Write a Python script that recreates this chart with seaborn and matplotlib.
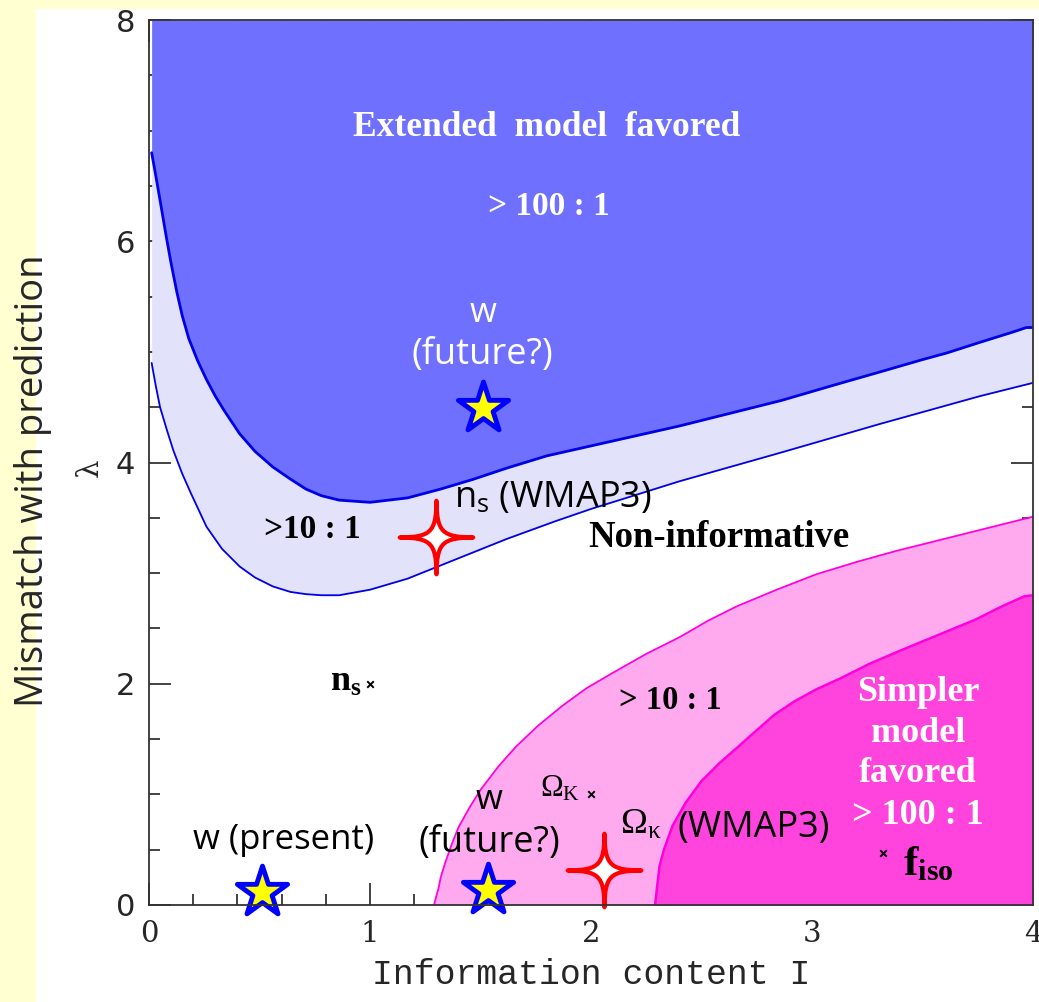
import matplotlib
matplotlib.use("Agg")
import matplotlib.pyplot as plt
import seaborn as sns
from matplotlib.path import Path
from matplotlib.patches import Rectangle
from matplotlib.ticker import MultipleLocator

# Boundary curves: information content I versus mismatch lambda
# Extended model favoured > 100:1 (above this curve)
upper_I = [0.012, 0.03, 0.05, 0.08, 0.10, 0.125, 0.15, 0.18, 0.22, 0.26, 0.30, 0.34, 0.41,
           0.48, 0.56, 0.64, 0.71, 0.78, 0.86, 1.00, 1.17, 1.32, 1.47, 1.62, 1.80, 2.00,
           2.20, 2.40, 2.60, 2.86, 3.10, 3.31, 3.50, 3.61, 3.75, 3.91, 3.97, 4.00]
upper_L = [6.80, 6.60, 6.37, 6.02, 5.80, 5.55, 5.33, 5.12, 4.92, 4.75, 4.60, 4.47, 4.26,
           4.10, 3.96, 3.85, 3.76, 3.70, 3.66, 3.64, 3.68, 3.76, 3.85, 3.95, 4.06, 4.15,
           4.24, 4.33, 4.43, 4.56, 4.70, 4.82, 4.93, 4.99, 5.08, 5.18, 5.22, 5.22]
# Extended model favoured > 10:1
lower_I = [0.012, 0.03, 0.05, 0.08, 0.11, 0.15, 0.19, 0.26, 0.33, 0.41, 0.48, 0.56, 0.64,
           0.71, 0.78, 0.86, 1.00, 1.17, 1.32, 1.47, 1.62, 1.84, 2.00, 2.40, 2.86, 3.31,
           3.76, 4.00]
lower_L = [4.90, 4.70, 4.50, 4.30, 4.11, 3.90, 3.72, 3.42, 3.22, 3.06, 2.96, 2.88, 2.83,
           2.81, 2.80, 2.80, 2.85, 2.95, 3.07, 3.19, 3.31, 3.47, 3.58, 3.83, 4.09, 4.35,
           4.60, 4.72]
# Simpler model favoured > 10:1 (below this curve)
simple10_I = [1.29, 1.30, 1.31, 1.32, 1.34, 1.37, 1.40, 1.45, 1.50, 1.58, 1.66, 1.76, 1.87,
              1.98, 2.10, 2.25, 2.40, 2.53, 2.66, 2.84, 3.02, 3.20, 3.38, 3.56, 3.74, 3.90,
              4.00]
simple10_L = [0.00, 0.08, 0.15, 0.25, 0.38, 0.55, 0.70, 0.88, 1.04, 1.25, 1.43, 1.62, 1.80,
              1.96, 2.10, 2.27, 2.42, 2.57, 2.70, 2.85, 2.99, 3.10, 3.20, 3.29, 3.38, 3.46,
              3.51]
# Simpler model favoured > 100:1
simple100_I = [2.29, 2.30, 2.31, 2.33, 2.37, 2.43, 2.50, 2.58, 2.66, 2.75, 2.83, 2.92, 3.02,
               3.13, 3.26, 3.40, 3.57, 3.74, 3.86, 3.96, 4.00]
simple100_L = [0.00, 0.18, 0.35, 0.50, 0.72, 0.93, 1.12, 1.28, 1.42, 1.58, 1.72, 1.84, 1.95,
               2.05, 2.18, 2.30, 2.44, 2.58, 2.70, 2.79, 2.80]

# Models placed in the plane
w_star_I = [1.51, 0.51, 1.535]
w_star_L = [4.49, 0.12, 0.14]
wmap_I = [1.30, 2.057]
wmap_L = [3.33, 0.32]
cross_I = [1.00, 2.00, 3.32]
cross_L = [2.00, 1.00, 0.47]

xticks = [0, 1, 2, 3, 4]
yticks = [0, 2, 4, 6, 8]

BLUE = "#7070FF"
LIGHT_BLUE = "#E2E2FA"
LIGHT_PINK = "#FFAAEE"
PINK = "#FF44DD"
LINE_BLUE = "#0000E6"
MAGENTA = "#FF00DD"
SANS = "Open Sans"
SERIF = "Liberation Serif"

sns.set_theme(style="ticks")
plt.rcParams["font.family"] = [SANS, "DejaVu Sans"]
plt.rcParams["mathtext.fontset"] = "custom"
plt.rcParams["mathtext.rm"] = SERIF
plt.rcParams["mathtext.it"] = SERIF + ":italic"
plt.rcParams["mathtext.bf"] = SERIF + ":bold"

fig = plt.figure(figsize=(10.39, 10.02), dpi=100, facecolor="#FFFFD2")
fig.patches.append(Rectangle((36 / 1039, 0), 1, 1 - 9 / 1002, transform=fig.transFigure,
                             facecolor="white", edgecolor="none", zorder=-10))
ax = fig.add_axes([149 / 1039, 97 / 1002, 884 / 1039, 885 / 1002])
ax.set_zorder(1)
ax.set_facecolor("white")

# Shaded evidence regions
ax.fill_between(lower_I, lower_L, 8, color=LIGHT_BLUE, lw=0, zorder=1)
ax.fill_between(upper_I, upper_L, 8, color=BLUE, lw=0, zorder=1)
ax.fill_between(simple10_I, 0, simple10_L, color=LIGHT_PINK, lw=0, zorder=1)
ax.fill_between(simple100_I, 0, simple100_L, color=PINK, lw=0, zorder=1)

sns.lineplot(x=upper_I, y=upper_L, sort=False, estimator=None, color=LINE_BLUE, lw=2.0, ax=ax)
sns.lineplot(x=lower_I, y=lower_L, sort=False, estimator=None, color=LINE_BLUE, lw=1.3, ax=ax)
sns.lineplot(x=simple10_I, y=simple10_L, sort=False, estimator=None, color=MAGENTA, lw=1.3, ax=ax)
sns.lineplot(x=simple100_I, y=simple100_L, sort=False, estimator=None, color=MAGENTA, lw=1.8, ax=ax)

# Four-pointed sparkle marker
sparkle = Path(
    [(0, 1), (0.01, 0.15), (0.15, 0.01), (1, 0), (0.15, -0.01), (0.01, -0.15), (0, -1),
     (-0.01, -0.15), (-0.15, -0.01), (-1, 0), (-0.15, 0.01), (-0.01, 0.15), (0, 1), (0, 1)],
    [Path.MOVETO] + [Path.CURVE4] * 12 + [Path.CLOSEPOLY])

sns.scatterplot(x=w_star_I, y=w_star_L, marker="*", s=38 ** 2, color="yellow",
                edgecolor="blue", linewidth=3.5, zorder=5, ax=ax, clip_on=False)
sns.scatterplot(x=wmap_I, y=wmap_L, marker=sparkle, s=53 ** 2, color="white",
                edgecolor="red", linewidth=3.0, zorder=5, ax=ax, clip_on=False)
sns.scatterplot(x=cross_I, y=cross_L, marker="x", s=22, color="black",
                linewidth=1.4, zorder=5, ax=ax)

# Region labels
bold_serif = dict(family=SERIF, weight="bold")
ax.text(1.80, 7.03, "Extended  model  favored", color="white", fontsize=25.5,
        ha="center", va="center", **bold_serif)
ax.text(1.81, 6.31, "> 100 : 1", color="white", fontsize=24, ha="center", va="center", **bold_serif)
ax.text(0.74, 3.39, ">10 : 1", color="black", fontsize=24, ha="center", va="center", **bold_serif)
ax.text(2.58, 3.32, "Non-informative", color="black", fontsize=26.5, ha="center", va="center", **bold_serif)
ax.text(2.36, 1.85, "> 10 : 1", color="black", fontsize=23.5, ha="center", va="center", **bold_serif)
for txt, yy in zip(["Simpler", "model", "favored", "> 100 : 1"], [1.92, 1.55, 1.19, 0.81]):
    ax.text(3.48, yy, txt, color="white", fontsize=26, ha="center", va="center", **bold_serif)

# Model labels
ax.text(1.51, 5.35, "w", color="white", fontsize=25, ha="center", va="center")
ax.text(1.51, 4.97, "(future?)", color="white", fontsize=26, ha="center", va="center")
ax.text(1.54, 0.95, "w", color="black", fontsize=25, ha="center", va="center")
ax.text(1.54, 0.56, "(future?)", color="black", fontsize=26, ha="center", va="center")
ax.text(0.61, 0.59, "w (present)", color="black", fontsize=25, ha="center", va="center")
ax.text(1.38, 3.68, r"n$_\mathregular{s}$ (WMAP3)", color="black", fontsize=26, ha="left", va="center")
ax.text(2.13, 0.72, r"Ω$_\mathregular{κ}$", family=SERIF, color="black", fontsize=26, ha="left", va="center")
ax.text(2.39, 0.70, "(WMAP3)", color="black", fontsize=26, ha="left", va="center")
ax.text(0.96, 2.02, r"$\mathbf{n_s}$", color="black", fontsize=26, ha="right", va="center")
ax.text(1.95, 1.05, r"Ω$_\mathregular{K}$", family=SERIF, color="black", fontsize=22, ha="right", va="center")
ax.text(3.41, 0.37, r"$\mathbf{f_{iso}}$", color="black", fontsize=31, ha="left", va="center")

# Axes, ticks and labels
ax.set_xlim(0, 4)
ax.set_ylim(0, 8)
ax.set_xticks(xticks)
ax.set_yticks(yticks)
ax.xaxis.set_minor_locator(MultipleLocator(0.2))
ax.yaxis.set_minor_locator(MultipleLocator(0.5))
ax.tick_params(which="both", direction="in", top=True, right=True, color="#222222", width=1.2)
ax.tick_params(which="major", length=16)
ax.tick_params(which="minor", length=8)
ax.tick_params(axis="x", labelsize=21, pad=11)
ax.tick_params(axis="y", labelsize=22, pad=10)
for lbl in ax.get_xticklabels():
    lbl.set_fontfamily("DejaVu Serif")
for lbl in ax.get_yticklabels():
    lbl.set_fontfamily("DejaVu Sans")
for sp in ax.spines.values():
    sp.set_color("#333333")
    sp.set_linewidth(1.3)
    sp.set_zorder(6)

ax.set_xlabel("Information content I", family="Liberation Mono", fontsize=25)
ax.xaxis.set_label_coords(0.5, -0.079)
ax.xaxis.label.set_va("center")
ax.set_ylabel("Mismatch with prediction", family=SANS, fontsize=27.5)
ax.yaxis.set_label_coords(-0.131, 0.479)
ax.yaxis.label.set_va("center")
fig.text(90 / 1039, 1 - 468 / 1002, "λ", rotation=90, family="DejaVu Serif",
         fontsize=21, ha="center", va="center")

fig.savefig("out.png", dpi=100, facecolor=fig.get_facecolor())
